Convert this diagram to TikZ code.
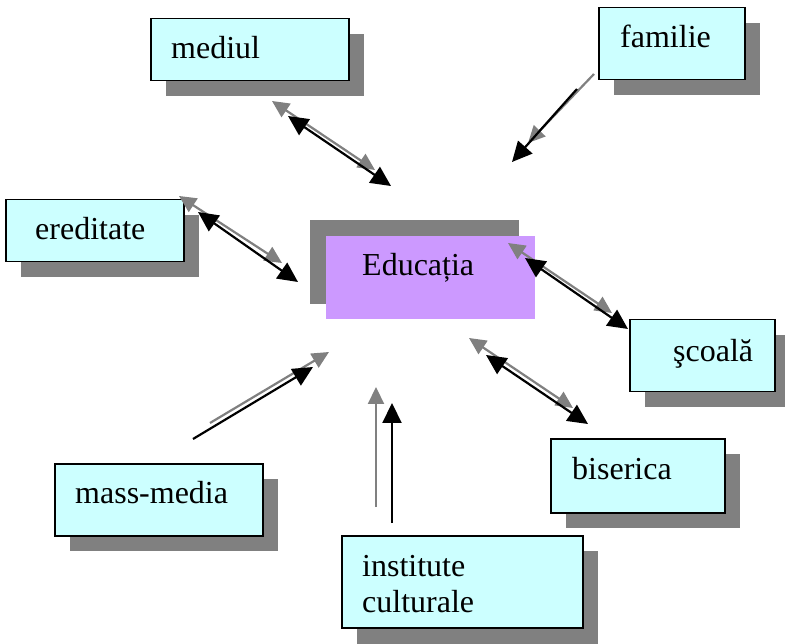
\documentclass[tikz,border=0pt]{standalone}
\usepackage{fontspec}
\setmainfont{Liberation Serif}
\usetikzlibrary{arrows.meta}
\definecolor{boxcyan}{HTML}{CCFFFF}
\definecolor{edupurple}{HTML}{CC99FF}
\definecolor{shadowgray}{HTML}{808080}
\tikzset{
  shadowbox/.style={fill=shadowgray, draw=none},
  cbox/.style={draw=black, line width=1.5pt, fill=boxcyan, anchor=north west, inner sep=0pt},
  lbl/.style={anchor=base west, inner sep=0pt, font=\fontsize{32}{36}\selectfont},
  tipb/.tip={Triangle[length=20pt,width=19pt]},
  tipg/.tip={Triangle[length=17pt,width=16pt]},
  blk/.style={draw=black, line width=2.2pt},
  gry/.style={draw=shadowgray, line width=2.2pt}
}
\begin{document}
\begin{tikzpicture}[x=1pt,y=-1pt]
\useasboundingbox (0,0) rectangle (785,644);
% shadows
\fill[shadowgray] (166,34) rectangle (364,96);
\fill[shadowgray] (614,23) rectangle (760,95);
\fill[shadowgray] (21,215) rectangle (199,277);
\fill[shadowgray] (645,335) rectangle (790,407);
\fill[shadowgray] (566,454) rectangle (740,528);
\fill[shadowgray] (70,479) rectangle (278,551);
\fill[shadowgray] (357,551) rectangle (598,644);
\fill[shadowgray] (310,220) rectangle (519,304);
% boxes
\node[cbox, minimum width=198pt, minimum height=62pt] (mediul) at (150,18) {};
\node[cbox, minimum width=146pt, minimum height=72pt] (familie) at (598,7) {};
\node[cbox, minimum width=178pt, minimum height=62pt] (ereditate) at (5,199) {};
\node[cbox, minimum width=145pt, minimum height=72pt] (scoala) at (629,319) {};
\node[cbox, minimum width=174pt, minimum height=74pt] (biserica) at (550,438) {};
\node[cbox, minimum width=208pt, minimum height=72pt] (massmedia) at (54,463) {};
\node[cbox, minimum width=241pt, minimum height=92pt] (institute) at (341,535) {};
\node[fill=edupurple, draw=none, anchor=north west, inner sep=0pt, minimum width=209pt, minimum height=83pt] (edu) at (326,236) {};
% labels
\node[lbl] (tmediul) at (171,59) {mediul};
\node[lbl] (tfamilie) at (620,48) {familie};
\node[lbl] (tered) at (35,240) {ereditate};
\node[lbl] (tscoala) at (673,362) {şcoală};
\node[lbl] (tbis) at (572,479) {biserica};
\node[lbl] (tmass) at (75,503) {mass-media};
\node[lbl] (tinst1) at (362,576) {institute};
\node[lbl] (tinst2) at (362,612) {culturale};
\node[lbl] (tedu) at (362,276) {Educația};
% arrow end points
\coordinate (mg1) at (272,101); \coordinate (mg2) at (375,170);
\coordinate (mb1) at (288,116); \coordinate (mb2) at (391,186);
\coordinate (fg1) at (594,74);  \coordinate (fg2) at (528,143);
\coordinate (fb1) at (577,89);  \coordinate (fb2) at (512,162);
\coordinate (eg1) at (179,196); \coordinate (eg2) at (282,263);
\coordinate (eb1) at (198,212); \coordinate (eb2) at (298,282);
\coordinate (sg1) at (508,243); \coordinate (sg2) at (612,313);
\coordinate (sb1) at (525,258); \coordinate (sb2) at (628,329);
\coordinate (bg1) at (469,338); \coordinate (bg2) at (573,408);
\coordinate (bb1) at (486,355); \coordinate (bb2) at (588,424);
\coordinate (xg1) at (210,423); \coordinate (xg2) at (329,352);
\coordinate (xb1) at (193,439); \coordinate (xb2) at (313,367);
\coordinate (ig1) at (376,507); \coordinate (ig2) at (376,387);
\coordinate (ib1) at (392,523); \coordinate (ib2) at (392,403);
% arrows
\draw[gry, tipg-tipg] (mg1) -- (mg2);
\draw[blk, tipb-tipb] (mb1) -- (mb2);
\draw[gry, -tipg] (fg1) -- (fg2);
\draw[blk, -tipb] (fb1) -- (fb2);
\draw[gry, tipg-tipg] (eg1) -- (eg2);
\draw[blk, tipb-tipb] (eb1) -- (eb2);
\draw[gry, tipg-tipg] (sg1) -- (sg2);
\draw[blk, tipb-tipb] (sb1) -- (sb2);
\draw[gry, tipg-tipg] (bg1) -- (bg2);
\draw[blk, tipb-tipb] (bb1) -- (bb2);
\draw[gry, -tipg] (xg1) -- (xg2);
\draw[blk, -tipb] (xb1) -- (xb2);
\draw[gry, -tipg] (ig1) -- (ig2);
\draw[blk, -tipb] (ib1) -- (ib2);
\end{tikzpicture}
\end{document}
